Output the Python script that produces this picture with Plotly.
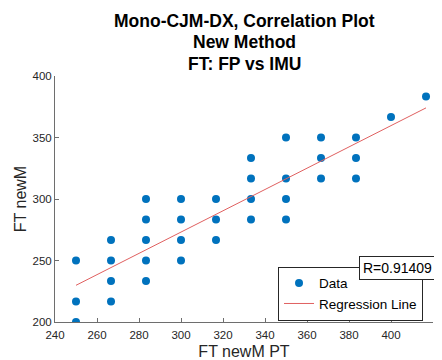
import numpy as np
import plotly.graph_objects as go

# FT newM PT (x) and FT newM (y) values, ms
ft_pt = [250, 250, 250,
         266.67, 266.67, 266.67, 266.67,
         283.33, 283.33, 283.33, 283.33, 283.33,
         300, 300, 300, 300,
         316.67, 316.67, 316.67,
         333.33, 333.33, 333.33, 333.33,
         350, 350, 350, 350,
         366.67, 366.67, 366.67,
         383.33, 383.33, 383.33,
         400,
         416.67]
ft_newm = [250, 216.67, 200,
           266.67, 250, 233.33, 216.67,
           300, 283.33, 266.67, 250, 233.33,
           300, 283.33, 266.67, 250,
           300, 283.33, 266.67,
           333.33, 316.67, 300, 283.33,
           350, 316.67, 300, 283.33,
           350, 333.33, 316.67,
           350, 333.33, 316.67,
           366.67,
           383.33]
title_lines = ["Mono-CJM-DX, Correlation Plot", "New Method", "FT: FP vs IMU"]
r_label = "R=0.91409"

x = np.array(ft_pt)
y = np.array(ft_newm)
slope, intercept = np.polyfit(x, y, 1)
x_line = np.array([x.min(), x.max()])
y_line = slope * x_line + intercept

FONT = "Liberation Sans, Arial, sans-serif"
AX = "#262626"

fig = go.Figure()
fig.add_trace(go.Scatter(x=x, y=y, mode="markers", name="Data",
                         marker=dict(color="#0072BD", size=8, line=dict(width=0))))
fig.add_trace(go.Scatter(x=x_line, y=y_line, mode="lines", name="Regression Line",
                         line=dict(color="#E06060", width=1)))

axis_common = dict(showgrid=False, zeroline=False, showline=True, linecolor="#6e6e6e",
                   linewidth=1, ticks="inside", ticklen=4, tickcolor="#6e6e6e",
                   tickfont=dict(family=FONT, size=11.5, color=AX), mirror=False,
                   automargin=False)

# title lines, placed above the plot area (paper coords) with 21px line spacing
title_annos = []
for i, line in enumerate(title_lines):
    title_annos.append(dict(text="<b>" + line + "</b>", x=0.5, xref="paper", xanchor="center",
                            y=1 + (76 - 21.5 - 21 * i) / 246, yref="paper", yanchor="middle",
                            showarrow=False,
                            font=dict(family=FONT, size=17.5, color="black")))

# page has an 8px body margin, so the figure is sized 8px smaller to fill 442x360
fig.update_layout(
    width=434, height=352,
    margin=dict(l=47, r=9, t=68, b=38, autoexpand=False),
    paper_bgcolor="white", plot_bgcolor="white",
    xaxis=dict(range=[240, 420], tickvals=[240, 260, 280, 300, 320, 340, 360, 380, 400, 420],
               ticklabelstandoff=2,
               title=dict(text="FT newM PT", font=dict(family=FONT, size=16, color=AX), standoff=9),
               **axis_common),
    yaxis=dict(range=[200, 400], tickvals=[200, 250, 300, 350, 400],
               title=dict(text="FT newM", font=dict(family=FONT, size=16, color=AX), standoff=1),
               **axis_common),
    legend=dict(x=0.59, y=0.225, xanchor="left", yanchor="top",
                bordercolor="#262626", borderwidth=1, bgcolor="white",
                font=dict(family=FONT, size=13.5, color="black"),
                tracegroupgap=0, itemwidth=30),
    annotations=title_annos + [dict(text=r_label, x=0.906, y=0.2175, xref="paper", yref="paper",
                      xanchor="center", yanchor="middle", showarrow=False,
                      font=dict(family=FONT, size=14, color="black"),
                      bgcolor="white", bordercolor="#262626", borderwidth=1,
                      borderpad=3)],
)

fig.write_html("out.html")
